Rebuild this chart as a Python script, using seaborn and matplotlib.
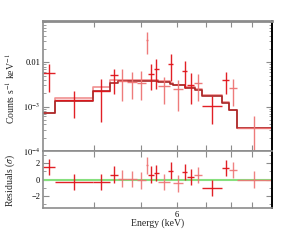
import numpy as np
import pandas as pd
import matplotlib
matplotlib.use("Agg")
import matplotlib.pyplot as plt
import seaborn as sns
from matplotlib.ticker import FixedLocator, NullFormatter, FixedFormatter, NullLocator

# ---- data group 1 (bright red) ----
d1_lo = [2.620, 2.818, 3.574, 3.965, 5.030, 5.201, 5.695, 6.212, 6.408, 7.008, 7.975]
d1_hi = [2.818, 3.574, 3.965, 4.175, 5.201, 5.385, 5.874, 6.408, 6.681, 7.975, 8.329]
d1_rate = [5.67e-3, 1.39e-3, 2.26e-3, 5.20e-3, 5.56e-3, 6.98e-3, 9.2e-3, 6.40e-3, 3.09e-3, 1.05e-3, 3.94e-3]
d1_low = [2.18e-3, 5.47e-4, 4.58e-4, 1.94e-3, 2.34e-3, 2.47e-3, 3.80e-3, 2.58e-3, 1.13e-3, 4.13e-4, 1.91e-3]
d1_high = [9.35e-3, 2.26e-3, 4.16e-3, 7.10e-3, 9.35e-3, 1.175e-2, 1.52e-2, 1.04e-2, 5.85e-3, 1.75e-3, 6.17e-3]
d1_resid = [1.54, -0.28, -0.28, 0.61, 0.60, 0.81, 1.09, 0.88, 0.28, -1.0, 1.42]

# ---- data group 2 (light red) ----
d2_lo = [4.175, 4.398, 4.680, 4.958, 5.352, 5.874, 6.681, 8.329, 8.726]
d2_hi = [4.398, 4.680, 4.958, 5.030, 5.755, 6.251, 7.008, 8.726, 10.81]
d2_rate = [3.80e-3, 3.61e-3, 3.48e-3, 3.16e-2, 2.98e-3, 2.47e-3, 3.48e-3, 2.69e-3, 3.25e-4]
d2_low = [1.35e-3, 1.47e-3, 1.39e-3, 1.52e-2, 1.17e-3, 8.0e-4, 1.35e-3, 1.04e-3, 9e-5]
d2_high = [6.98e-3, 6.17e-3, 6.40e-3, 4.85e-2, 4.68e-3, 3.94e-3, 5.56e-3, 4.22e-3, 6.17e-4]
d2_resid = [0.12, 0.04, -0.12, 1.73, -0.33, -0.48, 0.52, 1.21, 0.0]

# ---- folded models (step) ----
model_edges = [2.620, 2.818, 3.574, 3.965, 4.175, 5.352, 5.755, 5.874, 6.317, 6.722,
               7.008, 7.97, 8.318, 8.710, 10.81]
model1 = [7.10e-4, 1.35e-3, 2.26e-3, 3.48e-3, 3.80e-3, 3.61e-3, 3.30e-3, 3.04e-3,
          2.69e-3, 2.38e-3, 1.75e-3, 1.23e-3, 8.30e-4, 3.25e-4]
model2 = [7.10e-4, 1.55e-3, 2.82e-3, 3.90e-3, 3.95e-3, 3.72e-3, 3.40e-3, 3.12e-3,
          2.78e-3, 2.46e-3, 1.84e-3, 1.30e-3, 8.60e-4, 3.35e-4]

x_ticks = [3.6, 4.8, 6.0, 7.2, 8.4, 9.6]
x_labels = ["", "", "6", "", "", ""]

C1 = "#e0141a"
C2 = "#ee7474"
M1 = "#a82626"
M2 = "#f09090"
GREEN = "#86e07e"
GRAY = "#8c8c8c"

sns.set_style("ticks")
plt.rcParams["font.family"] = ["Liberation Serif", "DejaVu Serif"]
plt.rcParams["mathtext.fontset"] = "stix"

fig = plt.figure(figsize=(3.0, 2.4), dpi=100)
ax1 = fig.add_axes([0.1433, 0.3708, 0.7617, 0.5417])
ax2 = fig.add_axes([0.1433, 0.1333, 0.7617, 0.2375], sharex=ax1)


def steps(edges, levels, name):
    return pd.DataFrame({"E": edges, "v": list(levels) + [levels[-1]], "m": name})


sns.lineplot(data=steps(model_edges, model2, "m2"), x="E", y="v", ax=ax1,
             drawstyle="steps-post", color=M2, lw=1.2, estimator=None, sort=False)
sns.lineplot(data=steps(model_edges, model1, "m1"), x="E", y="v", ax=ax1,
             drawstyle="steps-post", color=M1, lw=1.2, estimator=None, sort=False)


def draw(ax, lo, hi, y, ylo, yhi, col, alpha):
    lo = np.array(lo); hi = np.array(hi)
    c = np.sqrt(lo * hi)
    y = np.array(y)
    xerr = [c - lo, hi - c]
    if ylo is None:
        yerr = 1.0
    else:
        yerr = [y - np.array(ylo), np.array(yhi) - y]
    ax.errorbar(c, y, xerr=xerr, yerr=yerr, fmt="none", ecolor=col, elinewidth=1.0,
                capsize=0, alpha=alpha)


draw(ax1, d2_lo, d2_hi, d2_rate, d2_low, d2_high, C2, 0.95)
draw(ax1, d1_lo, d1_hi, d1_rate, d1_low, d1_high, C1, 0.95)

ax2.axhline(0, color=GREEN, lw=1.5, zorder=1)
draw(ax2, d2_lo, d2_hi, d2_resid, None, None, C2, 0.9)
draw(ax2, d1_lo, d1_hi, d1_resid, None, None, C1, 0.95)

ax1.set_xscale("log")
ax1.set_yscale("log")
ax1.set_xlim(2.62, 10.81)
ax1.set_ylim(1e-4, 0.085)
ax2.set_ylim(-3.5, 3.5)

for ax in (ax1, ax2):
    ax.xaxis.set_major_locator(FixedLocator(x_ticks))
    ax.xaxis.set_minor_locator(NullLocator())
    ax.tick_params(which="both", direction="in", top=True, right=True,
                   labelsize=6, colors="black", pad=2)
    ax.tick_params(which="major", length=4, width=0.8, color=GRAY)
    ax.tick_params(which="minor", length=2, width=0.6, color=GRAY)
    ax.set_xlabel("")
    ax.set_ylabel("")
    for s in ("top", "left", "bottom"):
        ax.spines[s].set_color(GRAY)
        ax.spines[s].set_linewidth(1.2)
    ax.spines["right"].set_color("black")
    ax.spines["right"].set_linewidth(1.4)

ax1.spines["top"].set_linewidth(2.0)
ax1.xaxis.set_major_formatter(NullFormatter())
ax1.tick_params(axis="x", labelbottom=False)
ax1.yaxis.set_major_locator(FixedLocator([1e-4, 1e-3, 1e-2]))
ax1.yaxis.set_major_formatter(FixedFormatter(["$10^{-4}$", "$10^{-3}$", "0.01"]))
minors = [m * 10.0 ** d for d in (-4, -3, -2) for m in range(2, 10)]
ax1.yaxis.set_minor_locator(FixedLocator(minors))
ax1.yaxis.set_minor_formatter(NullFormatter())

ax2.xaxis.set_major_formatter(FixedFormatter(x_labels))
ax2.yaxis.set_major_locator(FixedLocator([-2, 0, 2]))
ax2.yaxis.set_major_formatter(FixedFormatter(["\u22122", "0", "2"]))
ax2.yaxis.set_minor_locator(FixedLocator([-3, -1, 1, 3]))

fig.text(0.035, 0.63, "Counts s$^{-1}$ keV$^{-1}$", rotation=90, ha="center",
         va="center", fontsize=7)
fig.text(0.035, 0.25, "Residuals ($\\sigma$)", rotation=90, ha="center",
         va="center", fontsize=7)
fig.text(0.524, 0.07, "Energy (keV)", ha="center", va="center", fontsize=7)

fig.savefig("out.png", dpi=100)
